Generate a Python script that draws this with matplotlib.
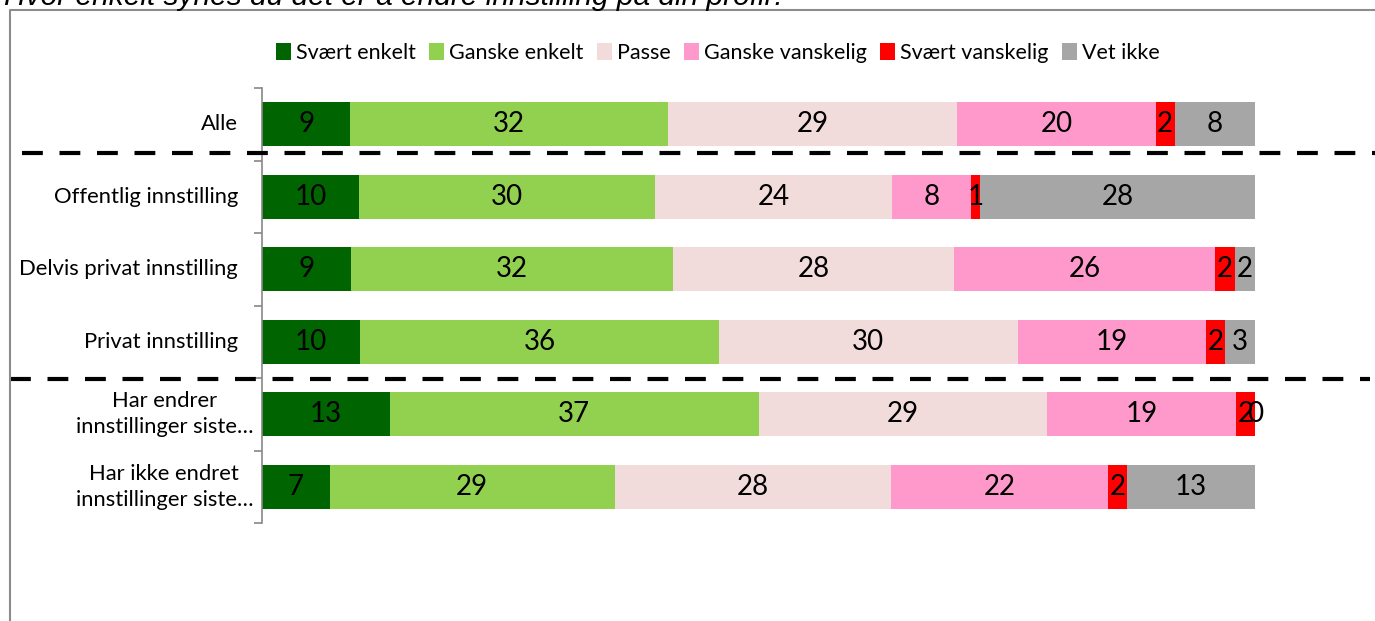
import matplotlib
matplotlib.use("Agg")
import matplotlib.pyplot as plt
from matplotlib.patches import Patch
from matplotlib.lines import Line2D
import matplotlib.transforms as mtransforms
import numpy as np

plt.rcParams["font.family"] = ["Lato", "DejaVu Sans"]

title = "Hvor enkelt synes du det er å endre innstilling på din profil?"

categories = [
    "Alle",
    "Offentlig innstilling",
    "Delvis privat innstilling",
    "Privat innstilling",
    "Har endrer\ninnstillinger siste…",
    "Har ikke endret\ninnstillinger siste…",
]
series = ["Svært enkelt", "Ganske enkelt", "Passe", "Ganske vanskelig",
          "Svært vanskelig", "Vet ikke"]
colors = ["#006400", "#92D050", "#F2DCDB", "#FF99CC", "#FF0000", "#A6A6A6"]

svaert_enkelt    = [8.9, 9.8, 9.0, 9.9, 12.9, 6.8]
ganske_enkelt    = [32.0, 29.8, 32.4, 36.1, 37.1, 28.7]
passe            = [29.1, 23.8, 28.3, 30.1, 29.1, 27.8]
ganske_vanskelig = [20.0, 8.0, 26.3, 19.0, 19.0, 21.9]
svaert_vanskelig = [1.9, 0.9, 2.0, 1.9, 1.9, 1.9]
vet_ikke         = [8.1, 27.7, 2.0, 3.0, 0.0, 12.9]

values = [svaert_enkelt, ganske_enkelt, passe, ganske_vanskelig,
          svaert_vanskelig, vet_ikke]

W, H = 1375, 621
fig = plt.figure(figsize=(W / 100, H / 100), dpi=100)

# plot area in pixels
x0, x1 = 262, 1255
y0, y1 = 88, 523
ax = fig.add_axes([x0 / W, 1 - y1 / H, (x1 - x0) / W, (y1 - y0) / H])

y = np.arange(len(categories))
left = np.zeros(len(categories))
for name, vals, col in zip(series, values, colors):
    vals = np.array(vals)
    ax.barh(y, vals, left=left, height=0.61, color=col, label=name)
    for yi, l, v in zip(y, left, vals):
        bbox = None
        if name == "Passe":
            bbox = dict(facecolor=col, edgecolor="none", pad=2)
        ax.text(l + v / 2, yi, f"{round(v)}", ha="center", va="center",
                fontsize=20, color="black", bbox=bbox)
    left += vals

ax.set_xlim(0, 100)
ax.set_ylim(len(categories) - 0.5, -0.5)
ax.set_xticks([])
ax.set_yticks([])
ax.set_yticks(np.arange(len(categories) + 1) - 0.5, minor=True)
ax.tick_params(axis="y", which="minor", length=6, color="#888888", width=1.2)
for s in ["top", "right", "bottom"]:
    ax.spines[s].set_visible(False)
ax.spines["left"].set_color("#888888")
ax.spines["left"].set_linewidth(1.2)

# category labels
for i, cat in enumerate(categories):
    dx = -24 if "\n" not in cat else -9
    tr = mtransforms.offset_copy(ax.get_yaxis_transform(), fig=fig,
                                 x=dx, y=0, units="dots")
    ax.text(0, i, cat, transform=tr, ha="right", va="center",
            multialignment="center", fontsize=15.8, linespacing=1.35)

# legend
handles = [Patch(facecolor=c, edgecolor="none") for c in colors]
fig.legend(handles, series, loc="center", bbox_to_anchor=(0.522, 1 - 53 / H),
           ncol=6, frameon=False, fontsize=15.5, handlelength=0.7,
           handleheight=0.85, handletextpad=0.25, columnspacing=0.6)

# dashed separators
fig.add_artist(Line2D([22 / W, 1.0], [1 - 153 / H] * 2, transform=fig.transFigure,
                      color="black", lw=3, dashes=(5, 4)))
fig.add_artist(Line2D([10 / W, 1370 / W], [1 - 379 / H] * 2, transform=fig.transFigure,
                      color="black", lw=3, dashes=(5, 4)))

# chart border (partly outside the image)
fig.add_artist(Line2D([10 / W, 10 / W, 1.0], [0.0, 1 - 10 / H, 1 - 10 / H],
                      transform=fig.transFigure, color="#8C8C8C", lw=1.5))

# title, cut off at the top like the reference
fig.text(4 / W, 1 - 5 / H, title, ha="left", va="baseline", fontsize=21.5,
         style="italic", family=["Liberation Sans", "DejaVu Sans"])

fig.savefig("out.png", dpi=100)
